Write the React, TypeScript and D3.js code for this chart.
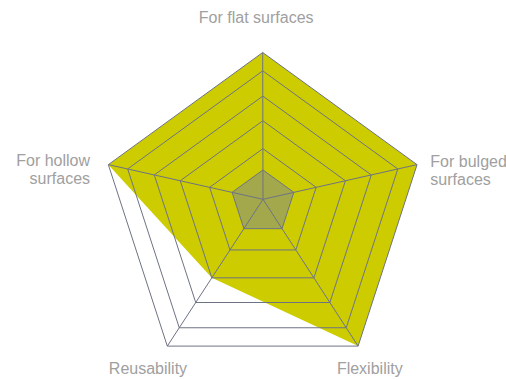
import React from "react";
import * as d3 from "d3";

const categories = ["For flat surfaces", "For bulged surfaces", "Flexibility", "Reusability", "For hollow surfaces"];
const labelLines = [["For flat surfaces"], ["For bulged", "surfaces"], ["Flexibility"], ["Reusability"], ["For hollow", "surfaces"]];
const gridLevels = [1, 2, 3, 4, 5, 6];
const levelRatios = [0, 0.2, 0.345, 0.535, 0.703, 0.875, 1];
const mainSeries = [6, 6, 6, 3, 6];
const innerSeries = [1, 1, 1, 1, 1];

const W = 506;
const H = 380;

export default function App() {
  const cx = 262.7;
  const cy = 214.8;
  const R = 162.3;
  const hub: [number, number] = [263, 199.3];

  const angle = d3.scaleLinear().domain([0, categories.length]).range([0, 2 * Math.PI]);
  const radial = d3.scaleLinear().domain(d3.range(levelRatios.length)).range(levelRatios);

  const outer = categories.map((_, i) => {
    const a = angle(i);
    return [cx + R * Math.sin(a), cy - R * Math.cos(a)] as [number, number];
  });

  const pt = (i: number, v: number): [number, number] => {
    const r = radial(v);
    return [hub[0] + r * (outer[i][0] - hub[0]), hub[1] + r * (outer[i][1] - hub[1])];
  };

  const line = d3.line<[number, number]>().curve(d3.curveLinearClosed);

  const mainPath = line(mainSeries.map((v, i) => pt(i, v))) || "";
  const innerPath = line(innerSeries.map((v, i) => pt(i, v))) || "";

  const gridStroke = "#6e7384";
  const textColor = "#a0a0a0";

  // label placement offsets relative to outer vertex
  const labelPlacement = [
    { dx: -6.5, dy: -30, anchor: "middle" },
    { dx: 13.3, dy: 2.3, anchor: "start" },
    { dx: 11.7, dy: 28.3, anchor: "middle" },
    { dx: -19.3, dy: 28.3, anchor: "middle" },
    { dx: -18.3, dy: 1, anchor: "end" },
  ];

  return (
    <svg width={W} height={H} style={{ position: "absolute", left: 0, top: 0 }} fontFamily="'Liberation Sans', Arial, sans-serif">
      <rect x={0} y={0} width={W} height={H} fill="#ffffff" />
      <path d={mainPath} fill="#cccc00" />
      <path d={innerPath} fill="#a3a84c" />
      {gridLevels.map((lv) => (
        <path key={lv} d={line(categories.map((_, i) => pt(i, lv))) || ""} fill="none" stroke={gridStroke} strokeWidth={1} />
      ))}
      {categories.map((_, i) => {
        const p = pt(i, 6);
        return <line key={i} x1={hub[0]} y1={hub[1]} x2={p[0]} y2={p[1]} stroke={gridStroke} strokeWidth={1} />;
      })}
      {labelLines.map((lines, i) => {
        const lp = labelPlacement[i];
        const x = outer[i][0] + lp.dx;
        const y = outer[i][1] + lp.dy;
        return (
          <text key={i} x={x} y={y} textAnchor={lp.anchor} fill={textColor} fontSize={16}>
            {lines.map((l, j) => (
              <tspan key={j} x={x} dy={j === 0 ? 0 : 18}>
                {l}
              </tspan>
            ))}
          </text>
        );
      })}
    </svg>
  );
}
